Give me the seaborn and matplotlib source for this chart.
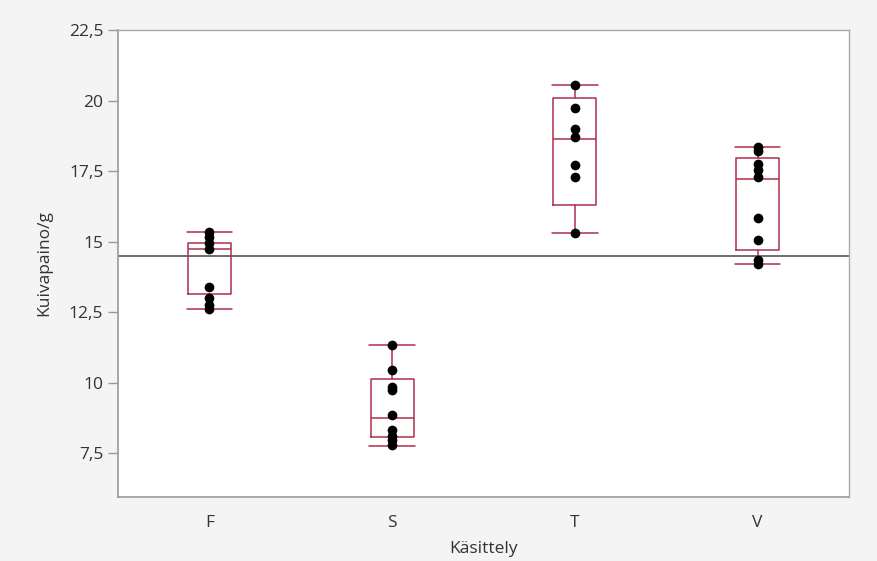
import matplotlib
matplotlib.use("Agg")
import matplotlib.pyplot as plt
import seaborn as sns
import pandas as pd

# Values
groups = ["F", "S", "T", "V"]
f_vals = [15.35, 15.15, 14.95, 14.75, 13.39, 13.0, 12.75, 12.6]
s_vals = [11.33, 10.44, 9.84, 9.75, 8.85, 8.32, 8.1, 7.95, 7.78]
t_vals = [20.55, 19.73, 19.0, 18.72, 17.71, 17.29, 15.30]
v_vals = [18.36, 18.2, 17.75, 17.55, 17.3, 15.83, 15.05, 14.35, 14.2]

# Box statistics as drawn in the picture
whisker_low = [12.6, 7.75, 15.30, 14.2]
q1 = [13.14, 8.07, 16.29, 14.7]
medians = [14.74, 8.74, 18.63, 17.22]
q3 = [14.95, 10.12, 20.09, 17.96]
whisker_high = [15.35, 11.33, 20.55, 18.36]

grand_mean = 14.5

y_ticks = [7.5, 10, 12.5, 15, 17.5, 20, 22.5]
y_tick_labels = ["7,5", "10", "12,5", "15", "17,5", "20", "22,5"]

rows = []
for g, vals in zip(groups, [f_vals, s_vals, t_vals, v_vals]):
    for v in vals:
        rows.append({"Käsittely": g, "Kuivapaino/g": v})
df = pd.DataFrame(rows)

sns.set_style("white")
plt.rcParams["font.family"] = ["Open Sans", "DejaVu Sans"]

fig = plt.figure(figsize=(8.78, 5.61), dpi=100, facecolor="#f4f4f4")
ax = fig.add_axes([0.1344, 0.114, 0.8326, 0.8325])
ax.set_facecolor("white")

box_color = "#ad2f4c"
stats = []
for i, g in enumerate(groups):
    stats.append({
        "label": g, "whislo": whisker_low[i], "q1": q1[i], "med": medians[i],
        "q3": q3[i], "whishi": whisker_high[i], "fliers": [],
    })
ax.bxp(
    stats, positions=range(len(groups)), widths=0.235, showfliers=False,
    boxprops=dict(color=box_color, linewidth=1.1),
    medianprops=dict(color=box_color, linewidth=1.1),
    whiskerprops=dict(color=box_color, linewidth=1.1),
    capprops=dict(color=box_color, linewidth=1.1),
    capwidths=0.25, zorder=2,
)

ax.axhline(grand_mean, color="#555555", linewidth=1.2, zorder=1)

sns.stripplot(
    data=df, x="Käsittely", y="Kuivapaino/g", order=groups,
    jitter=False, color="black", size=7, ax=ax, zorder=3,
)

ax.set_xlim(-0.5, 3.5)
ax.set_ylim(5.94, 22.5)
ax.set_yticks(y_ticks)
ax.set_yticklabels(y_tick_labels)
ax.set_xticks(range(len(groups)))
ax.set_xticklabels(groups)
ax.set_xticks([-0.5, 0.5, 1.5, 2.5, 3.5], minor=True)
ax.tick_params(axis="x", which="major", length=0, pad=13, labelsize=12.5, labelcolor="#333333")
ax.tick_params(axis="x", which="minor", length=10, width=1, color="#999999", direction="out")
ax.tick_params(axis="y", length=7, width=1, color="#999999", labelsize=12.5,
               labelcolor="#333333", left=True, direction="out")

ax.set_xlabel("Käsittely", fontsize=12.5, color="#333333", labelpad=7)
ax.set_ylabel("Kuivapaino/g", fontsize=12.5, color="#333333", labelpad=12)

for side in ["left", "bottom"]:
    ax.spines[side].set_color("#999999")
    ax.spines[side].set_linewidth(1.2)
for side in ["top", "right"]:
    ax.spines[side].set_color("#aaaaaa")
    ax.spines[side].set_linewidth(1.0)

fig.savefig("out.png", dpi=100, facecolor=fig.get_facecolor())
